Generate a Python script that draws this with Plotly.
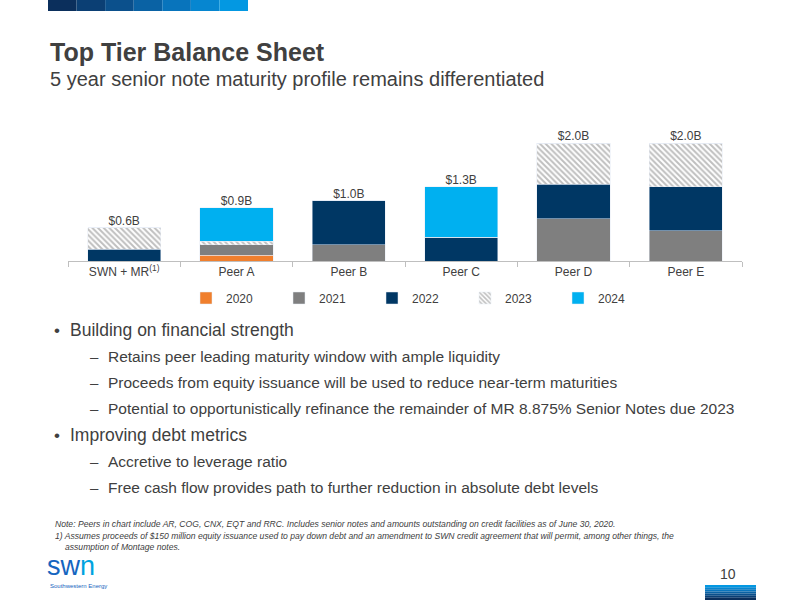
import plotly.graph_objects as go

categories = ["SWN + MR<sup>(1)</sup>", "Peer A", "Peer B", "Peer C", "Peer D", "Peer E"]
v2020 = [0.0, 0.10, 0.0, 0.0, 0.0, 0.0]
v2021 = [0.0, 0.18, 0.28, 0.0, 0.73, 0.52]
v2022 = [0.20, 0.0, 0.76, 0.41, 0.59, 0.76]
v2023 = [0.37, 0.06, 0.0, 0.0, 0.71, 0.75]
v2024 = [0.0, 0.58, 0.0, 0.87, 0.0, 0.0]
total_labels = ["$0.6B", "$0.9B", "$1.0B", "$1.3B", "$2.0B", "$2.0B"]

totals = [a + b + c + d + e for a, b, c, d, e in zip(v2020, v2021, v2022, v2023, v2024)]

def px(x):
    return x / 800
def py(y):
    return 1 - y / 600

fig = go.Figure()
fig.add_bar(x=categories, y=v2020, name="2020", marker_color="#F07F2D")
fig.add_bar(x=categories, y=v2021, name="2021", marker_color="#7F7F7F")
fig.add_bar(x=categories, y=v2022, name="2022", marker_color="#003764")
fig.add_bar(x=categories, y=v2023, name="2023",
            marker=dict(color="white", pattern=dict(shape="\\", fgcolor="#808080", bgcolor="white", size=4, solidity=0.5)))
fig.add_bar(x=categories, y=v2024, name="2024", marker_color="#00B0F0")
fig.add_scatter(x=categories, y=totals, mode="text", text=total_labels, textposition="top center",
                textfont=dict(size=12, color="#404040", family="Liberation Sans"), showlegend=False, hoverinfo="skip")

top_px, bot_px = 130, 261
fig.update_layout(
    width=800, height=600, margin=dict(l=0, r=0, t=0, b=0),
    paper_bgcolor="white", plot_bgcolor="white", barmode="stack", bargap=0.35,
    font=dict(family="Liberation Sans", color="#404040"),
    xaxis=dict(domain=[px(68), px(742)], showline=True, linecolor="#BFBFBF", ticks="outside",
               tickson="boundaries", tickcolor="#BFBFBF", ticklen=5, tickfont=dict(size=12, color="#404040")),
    yaxis=dict(domain=[py(bot_px), py(top_px)], range=[0, 2.0*(bot_px-top_px)/(bot_px-145)],
               visible=False),
    legend=dict(orientation="h", x=px(186), xanchor="left", y=py(298), yanchor="middle",
                font=dict(size=12, color="#404040"), traceorder="normal",
                entrywidth=48, entrywidthmode="pixels", itemwidth=30),
)

blues = ["#0B2F5C", "#0B3F74", "#0B508C", "#0A62A4", "#0874BC", "#0686D0", "#0398E2"]
w = 200/len(blues)
for i, c in enumerate(blues):
    fig.add_shape(type="rect", xref="paper", yref="paper", x0=px(48+i*w), x1=px(48+(i+1)*w),
                  y0=py(11), y1=1, fillcolor=c, line_width=0, layer="above")
h = 15/len(blues)
for i, c in enumerate(reversed(blues)):
    fig.add_shape(type="rect", xref="paper", yref="paper", x0=px(705), x1=px(756),
                  y0=py(585+(i+1)*h), y1=py(585+i*h), fillcolor=c, line_width=0)

def ann(x, y, text, size, color="#404040", bold=False, italic=False, anchor="left"):
    if bold:
        text = "<b>" + text + "</b>"
    if italic:
        text = "<i>" + text + "</i>"
    fig.add_annotation(xref="paper", yref="paper", x=px(x), y=py(y), text=text, showarrow=False,
                       xanchor=anchor, yanchor="middle", font=dict(size=size, color=color, family="Liberation Sans"))

ann(48, 52, "Top Tier Balance Sheet", 25, bold=True)
ann(48, 79, "5 year senior note maturity profile remains differentiated", 20)

bullets = [
    (52, 330, "•", 17), (68, 330, "Building on financial strength", 17.5),
    (88, 356, "–", 15), (106, 356, "Retains peer leading maturity window with ample liquidity", 15.5),
    (88, 382, "–", 15), (106, 382, "Proceeds from equity issuance will be used to reduce near-term maturities", 15.5),
    (88, 408, "–", 15), (106, 408, "Potential to opportunistically refinance the remainder of MR 8.875% Senior Notes due 2023", 15.5),
    (52, 435, "•", 17), (68, 435, "Improving debt metrics", 17.5),
    (88, 461, "–", 15), (106, 461, "Accretive to leverage ratio", 15.5),
    (88, 487, "–", 15), (106, 487, "Free cash flow provides path to further reduction in absolute debt levels", 15.5),
]
for x, y, t, s in bullets:
    ann(x, y, t, s)

ann(53, 524, "Note: Peers in chart include AR, COG, CNX, EQT and RRC. Includes senior notes and amounts outstanding on credit facilities as of June 30, 2020.", 8.6, italic=True)
ann(53, 536, "1) Assumes proceeds of $150 million equity issuance used to pay down debt and an amendment to SWN credit agreement that will permit, among other things, the", 8.6, italic=True)
ann(63, 547, "assumption of Montage notes.", 8.6, italic=True)

ann(45, 566, "sw<span style='color:#00A3E0'>n</span>", 27, color="#1565C0")
ann(48, 586, "Southwestern Energy", 6, color="#1565C0")
ann(738, 574, "10", 14, anchor="right")

fig.write_html("out.html", config={"displayModeBar": False},
               post_script="document.body.style.margin='0';document.body.style.overflow='hidden';")
